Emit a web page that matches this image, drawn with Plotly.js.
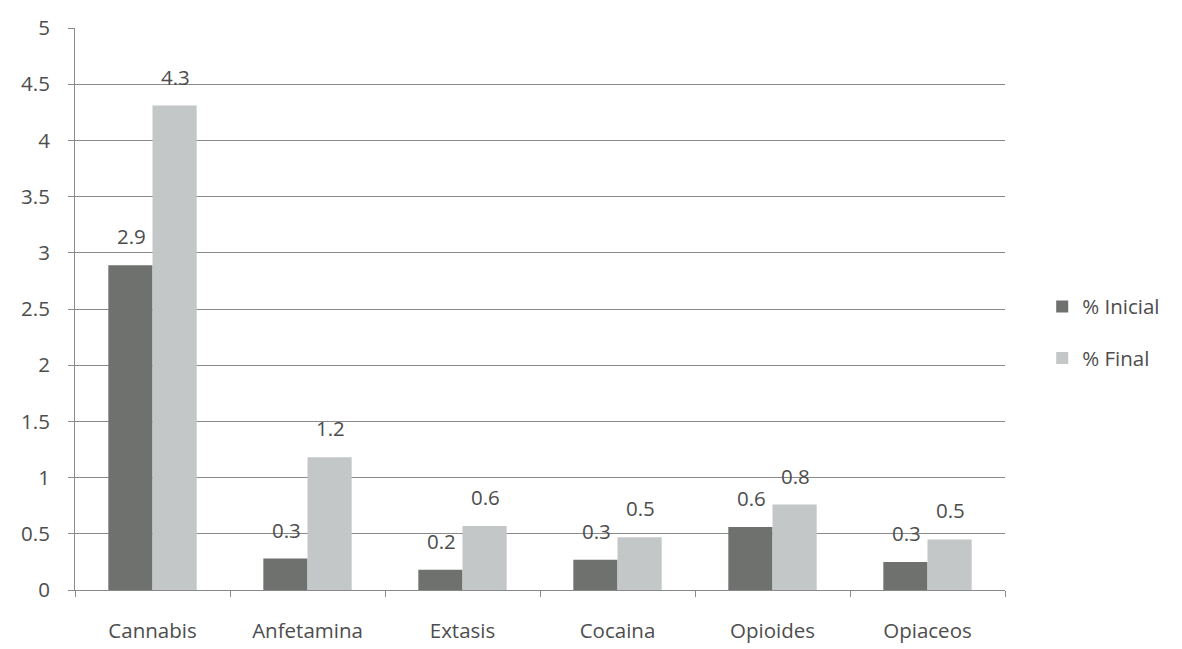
<!DOCTYPE html>
<html>
<head>
<meta charset="utf-8">
<script src="https://cdn.plot.ly/plotly-3.0.1.min.js"></script>
<style>html,body{margin:0;padding:0;background:#fff;}#chart{width:1182px;height:649px;}</style>
</head>
<body>
<div id="chart"></div>
<script>
const categories = ["Cannabis", "Anfetamina", "Extasis", "Cocaina", "Opioides", "Opiaceos"];
const inicialValues = [2.89, 0.28, 0.18, 0.27, 0.56, 0.25];
const finalValues = [4.31, 1.18, 0.57, 0.47, 0.76, 0.45];
const inicialLabels = ["2.9", "0.3", "0.2", "0.3", "0.6", "0.3"];
const finalLabels = ["4.3", "1.2", "0.6", "0.5", "0.8", "0.5"];
const seriesNames = ["% Inicial", "% Final"];

const textColor = "#4d4d4d";
const fontFamily = "'Open Sans', 'DejaVu Sans', sans-serif";
const fs = 20.5;

const traces = [
  {type: "bar", name: seriesNames[0], x: categories, y: inicialValues,
   marker: {color: "#6f716f"}, legendgroup: "a", hoverinfo: "none"},
  {type: "bar", name: seriesNames[1], x: categories, y: finalValues,
   marker: {color: "#c4c7c7"}, legendgroup: "b", hoverinfo: "none"}
];

const annotations = [];
categories.forEach((c, i) => {
  annotations.push({x: c, y: inicialValues[i], text: inicialLabels[i], showarrow: false,
    xshift: -21, yshift: 29, font: {size: fs, color: textColor, family: fontFamily}});
  annotations.push({x: c, y: finalValues[i], text: finalLabels[i], showarrow: false,
    xshift: 23, yshift: 29, font: {size: fs, color: textColor, family: fontFamily}});
});

const layout = {
  width: 1182, height: 649,
  margin: {l: 75, r: 177, t: 28, b: 59},
  paper_bgcolor: "#ffffff", plot_bgcolor: "#ffffff",
  font: {family: fontFamily, size: fs, color: textColor},
  barmode: "group", bargap: 0.43, bargroupgap: 0,
  showlegend: true,
  legend: {x: 1.04, xanchor: "left", y: 0.458, yanchor: "middle",
    font: {size: fs, color: textColor}, traceorder: "grouped", tracegroupgap: 22,
    bgcolor: "rgba(0,0,0,0)"},
  xaxis: {type: "category", showgrid: false, showline: true, linecolor: "#8a8a8a", linewidth: 1,
    ticks: "outside", tickson: "boundaries", ticklen: 6, tickcolor: "#8a8a8a",
    ticklabelstandoff: 22, tickfont: {size: fs, color: textColor}, zeroline: false, fixedrange: true},
  yaxis: {range: [0, 5], dtick: 0.5, tick0: 0, showgrid: true, gridcolor: "#8a8a8a", gridwidth: 1,
    showline: true, linecolor: "#8a8a8a", linewidth: 1, ticks: "outside", ticklen: 6,
    tickcolor: "#8a8a8a", ticklabelstandoff: 14, tickfont: {size: fs, color: textColor},
    zeroline: false, fixedrange: true},
  annotations: annotations
};

Plotly.newPlot("chart", traces, layout, {displayModeBar: false, staticPlot: true});
</script>
</body>
</html>
